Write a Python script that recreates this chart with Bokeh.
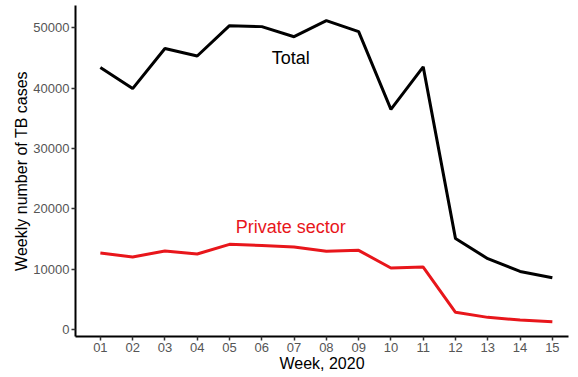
from bokeh.plotting import figure
from bokeh.models import FixedTicker, Range1d, ColumnDataSource, BasicTickFormatter
from bokeh.core.properties import value
from bokeh.embed import file_html
from bokeh.resources import INLINE

weeks = list(range(1, 16))
week_labels = ["01", "02", "03", "04", "05", "06", "07", "08", "09", "10", "11", "12", "13", "14", "15"]
total = [43400, 39900, 46550, 45300, 50330, 50170, 48500, 51170, 49330, 36450, 43500, 15050, 11720, 9610, 8550]
private = [12670, 12000, 13000, 12500, 14100, 13900, 13670, 12950, 13100, 10170, 10330, 2830, 2000, 1550, 1280]
y_ticks = [0, 10000, 20000, 30000, 40000, 50000]

labels = ["Total", "Private sector"]
label_x = [6.9, 6.9]
label_y = [44900, 17000]
label_colors = ["black", "#e8161b"]

FONT = "Liberation Sans"

p = figure(width=570, height=374, output_backend="svg", toolbar_location=None,
           x_range=Range1d(0.23, 15.5), y_range=Range1d(-1170, 53670),
           min_border_left=75, min_border_right=2, min_border_top=5, min_border_bottom=0)

src = ColumnDataSource(dict(x=weeks, total=total, private=private))
p.line("x", "total", source=src, line_color="black", line_width=3)
p.line("x", "private", source=src, line_color="#e8161b", line_width=3)

p.text(x=label_x, y=label_y, text=labels, text_color=label_colors,
       text_font=value(FONT), text_font_size="18px", text_align="center", text_baseline="middle")

p.grid.visible = False
p.outline_line_color = None
p.background_fill_color = "white"
p.border_fill_color = "white"

p.xaxis.ticker = FixedTicker(ticks=weeks)
p.xaxis.major_label_overrides = {w: l for w, l in zip(weeks, week_labels)}
p.yaxis.ticker = FixedTicker(ticks=y_ticks)
p.yaxis.formatter = BasicTickFormatter(use_scientific=False)

for ax in (p.xaxis[0], p.yaxis[0]):
    ax.axis_line_width = 2
    ax.axis_line_color = "black"
    ax.major_tick_line_color = "#333333"
    ax.major_tick_line_width = 1.5
    ax.major_tick_in = 0
    ax.major_tick_out = 4
    ax.minor_tick_line_color = None
    ax.major_label_text_font = FONT
    ax.major_label_text_font_size = "13px"
    ax.major_label_text_color = "#555555"
    ax.major_label_standoff = 2
    ax.axis_label_text_font = FONT
    ax.axis_label_text_font_size = "16px"
    ax.axis_label_text_font_style = "normal"
    ax.axis_label_text_color = "black"
    ax.axis_label_standoff = 0

p.xaxis.axis_label = "Week, 2020"
p.yaxis.axis_label = "Weekly number of TB cases"

open("out.html", "w").write(file_html(p, INLINE))
